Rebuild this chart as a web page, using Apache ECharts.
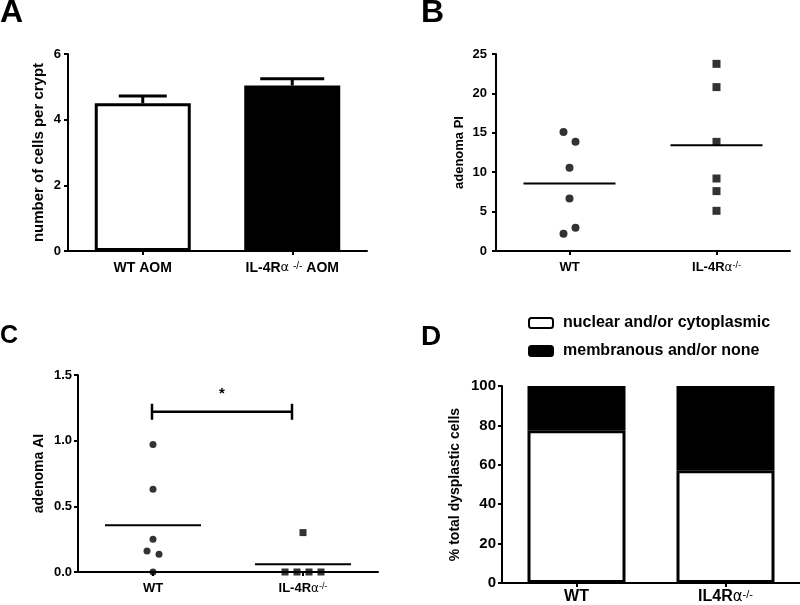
<!DOCTYPE html>
<html><head><meta charset="utf-8">
<script src="https://cdn.jsdelivr.net/npm/echarts@6/dist/echarts.min.js"></script>
<style>html,body{margin:0;padding:0;background:#fff}#c{width:800px;height:605px}</style>
</head><body><div id="c"></div>
<script>
// ---------- Panel A ----------
const aCategories = ['WT AOM', 'IL-4Rα -/- AOM'];
const aMeans = [4.5, 5.04];
const aSEM = [0.22, 0.21];
// ---------- Panel B ----------
const bCategories = ['WT', 'IL-4Rα-/-'];
const bWT = [15.1, 13.85, 10.55, 6.65, 2.95, 2.2];
const bKO = [23.75, 20.8, 13.85, 9.2, 7.6, 5.1];
const bMeans = [8.56, 13.43];
// ---------- Panel C ----------
const cCategories = ['WT', 'IL-4Rα-/-'];
const cWT = [0.97, 0.63, 0.25, 0.16, 0.135, 0.0];
const cKO = [0.30, 0.0, 0.0, 0.0, 0.0];
const cMeans = [0.356, 0.059];
const cSigLevel = 1.22;
const cSigText = '*';
// ---------- Panel D ----------
const dCategories = ['WT', 'IL4Rα-/-'];
const dSeriesNames = ['nuclear and/or cytoplasmic', 'membranous and/or none'];
const dNuclear = [77.5, 57.2];
const dMembranous = [22.5, 42.8];

// ---------- layout (pixel jitter of overlapping dots, in dot slots) ----------
const bWTSlots = [-1, 1, 0, 0, 1, -1];
const bKOSlots = [0, 0, 0, 0, 0, 0];
const cWTSlots = [0, 0, 0, -1, 1, 0];
const cKOSlots = [0, -3, -1, 1, 3];
const SLOT = 6;

const FONT = '"Liberation Sans", Arial, sans-serif';
function rich(size) {
  return {
    b: {fontFamily: FONT, fontWeight: 'bold', fontSize: size, color: '#000'},
    g: {fontFamily: '"DejaVu Sans", sans-serif', fontWeight: 'normal', fontSize: size - 1, color: '#000'},
    s: {fontFamily: FONT, fontWeight: 'normal', fontSize: Math.round(size * 0.7), color: '#000', verticalAlign: 'top'}
  };
}
function richLabel(s) {
  return '{b|' + s.replace(/α/g, '}{g|α}{b|').replace(/-\/-/g, '}{s|-/-}{b|') + '}';
}
const axLine = {show: true, onZero: false, lineStyle: {color: '#000', width: 2}};
const axTick = {show: true, length: 4, lineStyle: {color: '#000', width: 2}};

function xCat(grid, cats, size, margin) {
  return {
    type: 'category', gridIndex: grid, data: cats,
    axisLine: axLine, axisTick: Object.assign({alignWithLabel: true}, axTick),
    axisLabel: {interval: 0, margin: margin, formatter: richLabel, rich: rich(size)},
    splitLine: {show: false}
  };
}
function yVal(grid, min, max, interval, name, nameSize, nameGap, labSize, margin, dec) {
  return {
    type: 'value', gridIndex: grid, min: min, max: max, interval: interval,
    name: name, nameLocation: 'middle', nameGap: nameGap,
    nameTextStyle: {fontFamily: FONT, fontWeight: 'bold', fontSize: nameSize, color: '#000'},
    axisLine: axLine, axisTick: axTick, splitLine: {show: false},
    axisLabel: {margin: margin, fontFamily: FONT, fontWeight: 'bold', fontSize: labSize, color: '#000',
      formatter: v => dec ? v.toFixed(dec) : String(v)}
  };
}
function dotSeries(xi, cat, vals, slots, symbol, size) {
  return {
    type: 'scatter', xAxisIndex: xi, yAxisIndex: xi, symbol: symbol, symbolSize: size, clip: false,
    itemStyle: {color: '#000'}, z: 4,
    data: vals.map((v, k) => ({value: [cat, v], symbolOffset: [slots[k] * SLOT, 0]}))
  };
}
function meanLines(xi, means, halfW) {
  return {
    type: 'custom', xAxisIndex: xi, yAxisIndex: xi, z: 3,
    data: means.map((m, i) => [i, m]),
    renderItem: (p, api) => {
      const c = api.coord([api.value(0), api.value(1)]);
      return {type: 'line', shape: {x1: c[0] - halfW, y1: c[1], x2: c[0] + halfW, y2: c[1]},
        style: {stroke: '#000', lineWidth: 2}};
    }
  };
}

const option = {
  animation: false,
  backgroundColor: '#fff',
  textStyle: {fontFamily: FONT},
  grid: [
    {left: 68, top: 54, width: 299, height: 197},
    {left: 496, top: 54, width: 294, height: 197},
    {left: 78, top: 375, width: 300, height: 197},
    {left: 502, top: 386, width: 298, height: 197}
  ],
  xAxis: [
    xCat(0, aCategories, 14, 10),
    xCat(1, bCategories, 13, 10),
    xCat(2, cCategories, 13, 10),
    xCat(3, dCategories, 16, 6)
  ],
  yAxis: [
    yVal(0, 0, 6, 2, 'number of cells per crypt', 15, 22, 13, 7, 0),
    yVal(1, 0, 25, 5, 'adenoma PI', 13, 30, 13, 9, 0),
    yVal(2, 0, 1.5, 0.5, 'adenoma AI', 14, 32, 13, 6, 1),
    yVal(3, 0, 100, 20, '% total dysplastic cells', 14, 40, 15, 6, 0)
  ],
  legend: {
    orient: 'vertical', left: 523, top: 310, itemWidth: 24, itemHeight: 10, itemGap: 12,
    icon: 'roundRect', data: dSeriesNames,
    textStyle: {fontFamily: FONT, fontWeight: 'bold', fontSize: 16, color: '#000', padding: [0, 0, 0, 5]}
  },
  graphic: [
    {type: 'text', left: 0, top: -3, style: {text: 'A', font: 'bold 32px ' + FONT, fill: '#000'}},
    {type: 'text', left: 421, top: -3, style: {text: 'B', font: 'bold 32px ' + FONT, fill: '#000'}},
    {type: 'text', left: 0, top: 324, style: {text: 'C', font: 'bold 25px ' + FONT, fill: '#000'}},
    {type: 'text', left: 421, top: 323, style: {text: 'D', font: 'bold 28px ' + FONT, fill: '#000'}}
  ],
  series: [
    // A bars
    {type: 'bar', xAxisIndex: 0, yAxisIndex: 0, barWidth: 96, z: 2,
      itemStyle: {borderColor: '#000', borderWidth: 3},
      data: aMeans.map((m, i) => ({value: m, itemStyle: {color: i === 0 ? '#fff' : '#000'}}))},
    // A error bars (upper)
    {type: 'custom', xAxisIndex: 0, yAxisIndex: 0, z: 3,
      data: aMeans.map((m, i) => [i, m, aSEM[i]]),
      renderItem: (p, api) => {
        const i = api.value(0);
        const b = api.coord([i, api.value(1)]);
        const t = api.coord([i, api.value(1) + api.value(2)]);
        const hw = i === 0 ? 24 : 32;
        return {type: 'group', children: [
          {type: 'line', shape: {x1: b[0], y1: b[1], x2: t[0], y2: t[1]}, style: {stroke: '#000', lineWidth: 3}},
          {type: 'line', shape: {x1: t[0] - hw, y1: t[1], x2: t[0] + hw, y2: t[1]}, style: {stroke: '#000', lineWidth: 3}}
        ]};
      }},
    // B
    dotSeries(1, 0, bWT, bWTSlots, 'circle', 8),
    dotSeries(1, 1, bKO, bKOSlots, 'rect', 8),
    meanLines(1, bMeans, 46),
    // C
    dotSeries(2, 0, cWT, cWTSlots, 'circle', 7),
    dotSeries(2, 1, cKO, cKOSlots, 'rect', 7),
    meanLines(2, cMeans, 48),
    {type: 'custom', xAxisIndex: 2, yAxisIndex: 2, z: 3,
      data: [[0, cSigLevel]],
      renderItem: (p, api) => {
        const l = api.coord([0, api.value(1)]);
        const r = api.coord([1, api.value(1)]);
        const x1 = l[0] - 1, x2 = r[0] - 11, y = l[1];
        const st = {stroke: '#000', lineWidth: 2.5};
        return {type: 'group', children: [
          {type: 'line', shape: {x1: x1, y1: y, x2: x2, y2: y}, style: st},
          {type: 'line', shape: {x1: x1, y1: y - 8, x2: x1, y2: y + 8}, style: st},
          {type: 'line', shape: {x1: x2, y1: y - 8, x2: x2, y2: y + 8}, style: st},
          {type: 'text', x: (x1 + x2) / 2, y: y - 18, style: {text: cSigText, font: 'bold 15px ' + FONT,
            fill: '#000', align: 'center', verticalAlign: 'middle'}}
        ]};
      }},
    // D
    {type: 'bar', name: dSeriesNames[0], stack: 'd', xAxisIndex: 3, yAxisIndex: 3, barWidth: 98,
      itemStyle: {color: '#fff', borderColor: '#000', borderWidth: 3}, data: dNuclear},
    {type: 'bar', name: dSeriesNames[1], stack: 'd', xAxisIndex: 3, yAxisIndex: 3, barWidth: 98,
      itemStyle: {color: '#000', borderColor: '#000', borderWidth: 3}, data: dMembranous}
  ]
};
const chart = echarts.init(document.getElementById('c'), null, {renderer: 'canvas'});
chart.setOption(option);
</script>
</body></html>
